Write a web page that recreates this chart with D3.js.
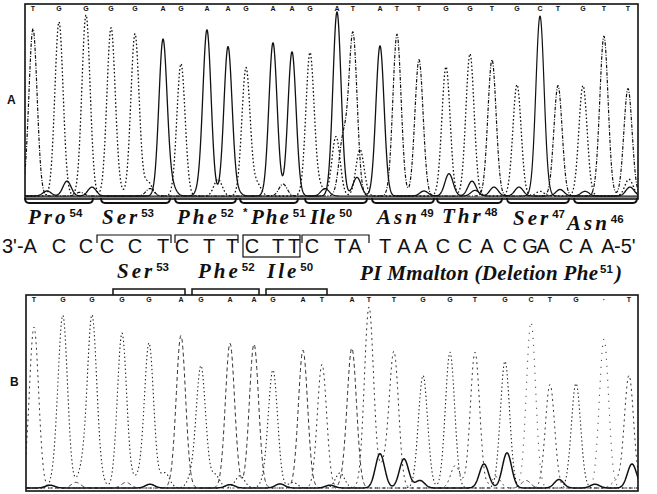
<!DOCTYPE html>
<html><head><meta charset="utf-8">
<script src="https://cdn.jsdelivr.net/npm/d3@7"></script>
<style>
body{margin:0;background:#fff}
text{fill:#111}
.aa{font-family:"Liberation Serif",serif;font-weight:bold;font-style:italic;font-size:21px;letter-spacing:3px}
.sup{font-family:"Liberation Sans",sans-serif;font-weight:bold;font-size:11.5px}
.seq{font-family:"Liberation Sans",sans-serif;font-size:20px}
.call{font-family:"Liberation Sans",sans-serif;font-weight:bold;font-size:7px}
.pl{font-family:"Liberation Sans",sans-serif;font-weight:bold;font-size:12px}
</style>
</head><body><svg id="c" width="657" height="494"></svg>
<script>
// ---------- DATA ----------
// Panel A (normal sequence): base calls, peak positions (scan units), peak intensities
const aBases   = "TGGGGAGAAGAAGATATTGGTGCTGTT".split("");
const aPos     = [8,34,61,86,110,138,156,182,203,221,248,267,285,312,328,355,372,394,421,445,467,492,515,533,558,579,603];
const aHeights = [899,936,974,893,872,840,711,888,802,690,824,776,770,990,867,808,850,733,695,765,733,599,968,594,594,850,578];
// Panel A background (secondary) peaks
const aMinorBases   = "AAAAAAAAAAAAAAGGGGGGGGGTTTTTTCCC".split("");
const aMinorPos     = [22,42,67,147,175,212,332,399,424,447,469,494,535,605, 92,123,193,232,295,311,335,515,604, 55,125,258,318,372,574, 300,450,560];
const aMinorHeights = [27,80,48,48,25,20,100,27,120,80,48,48,35,48, 35,75,90,64,45,320,250,25,90, 20,40,64,300,20,20, 40,30,25];

// Panel B (PI Mmalton)
const bBases   = "TGGGGAGAAGATATTGGTGCTGCT".split("");
const bCalls   = "TGGGGAGAAGATATTGGTGCTG·T".split("");
const bPos     = [8,37,66,96,123,155,175,204,228,247,277,296,326,343,368,397,424,449,479,505,524,550,578,603];
const bHeights = [856,883,904,824,770,797,642,770,765,621,733,658,722,963,717,599,722,722,674,883,551,556,792,599];
// Panel B background peaks (N = solid baseline trace)
const bMinorBases   = "NNNNNNNNNNNNNGGGGGGGGGGGTTTTTAAAAA".split("");
const bMinorPos     = [24,124,204,254,304,354,378,394,458,481,533,569,606, 31,56,74,111,139,166,189,214,239,267,314, 358,429,430,470,590, 50,100,150,320,500];
const bMinorHeights = [15,20,18,22,15,182,155,40,128,187,45,20,128, 80,90,40,50,80,55,70,65,30,30,80, 110,80,40,60,35, 30,30,25,50,40];

// Amino acid annotations
const rowAa    = ["Pro","Ser","Phe","Phe","Ile","Asn","Thr","Ser","Asn"];
const rowAaNum = ["54","53","52","51","50","49","48","47","46"];
const seqText  = ["3'-A","C","C","C","C","T","C","T","T","C","T","T","C","T","A","T","A","A","C","C","A","C","G","A","C","A","A","-5'"];
const rowB     = ["Ser","Phe","Ile"];
const rowBNum  = ["53","52","50"];
const titleB   = "PI Mmalton (Deletion Phe";
const titleBNum = "51";

// ---------- LAYOUT ----------
const svg = d3.select("#c");
const aaLayout = [[28,224],[102,224],[177,224],[251,224],[310,224],[377,224],[442,223],[513,225],[567,230]];
const seqLayout = [2,59,86,107,135,163,182,209,232,252,278,294,312,340,355,385,404,421,443,465,487,510,530,543,566,586,608,614];
const rowBLayout = [[117,278],[198,278],[267,278]];
const underA = [[25,93],[101,170],[175,236],[240,298],[305,367],[372,434],[437,502],[507,569],[574,637]];
const overB = [[113,185],[192,259],[266,327]];
const seqBrackets = [[97,171],[175,238],[302,369]];

const xA = d3.scaleLinear().domain([0,613]).range([25,638]);
const yA = d3.scaleLinear().domain([0,1000]).range([196,10]);
const xB = d3.scaleLinear().domain([0,612]).range([26,638]);
const yB = d3.scaleLinear().domain([0,1000]).range([488,300]);

const stylesA = {
  A:{w:1.3,d:null,c:"#111"}, C:{w:1.2,d:null,c:"#111"},
  G:{w:1.3,d:"1.6,2.2",c:"#111"}, T:{w:1.2,d:"3.5,1.5,1,1.5",c:"#111"}
};
const stylesB = {
  A:{w:1.0,d:"4,3",c:"#333"}, C:{w:1.1,d:"1,6",c:"#333"},
  G:{w:1.1,d:"1.4,2.6",c:"#222"}, T:{w:1.0,d:"2,3.5",c:"#333"}, N:{w:1.5,d:null,c:"#111"}
};

function drawPanel(id, x, y, bases, pos, h, mb, mp, mh, styles, sigma, top, bottom) {
  svg.append("clipPath").attr("id",id).append("rect")
    .attr("x",x.range()[0]).attr("y",top).attr("width",x.range()[1]-x.range()[0]).attr("height",bottom-top);
  const g = svg.append("g").attr("clip-path",`url(#${id})`);
  const peaks = bases.map((b,i)=>({b,p:pos[i],h:h[i]}))
    .concat(mb.map((b,i)=>({b,p:mp[i],h:mh[i]})));
  const [d0,d1] = x.domain();
  const xs = d3.range(d0-6, d1+6, 0.4);
  const order = ["G","T","C","A","N"].filter(c=>peaks.some(p=>p.b===c));
  const line = d3.line().x(d=>x(d[0])).y(d=>y(d[1]));
  order.forEach(c=>{
    const ps = peaks.filter(p=>p.b===c);
    const pts = xs.map(t=>[t, d3.sum(ps, p=>p.h*Math.exp(-((t-p.p)**2)/(2*sigma*sigma)))]);
    g.append("path").datum(pts).attr("d",line)
      .attr("fill","none").attr("stroke",styles[c].c)
      .attr("stroke-width",styles[c].w)
      .attr("stroke-dasharray",styles[c].d)
      .attr("stroke-linejoin","round");
  });
  svg.append("rect").attr("x",x.range()[0]).attr("y",top)
    .attr("width",x.range()[1]-x.range()[0]).attr("height",bottom-top)
    .attr("fill","none").attr("stroke","#111").attr("stroke-width",1.6);
}

drawPanel("clipA", xA, yA, aBases, aPos, aHeights, aMinorBases, aMinorPos, aMinorHeights, stylesA, 4.1, 4, 199);
drawPanel("clipB", xB, yB, bBases, bPos, bHeights, bMinorBases, bMinorPos, bMinorHeights, stylesB, 4.6, 295, 491);
svg.append("line").attr("x1",25).attr("x2",638).attr("y1",197).attr("y2",197).attr("stroke","#111").attr("stroke-width",1);

// base calls
svg.selectAll(".callA").data(aBases).join("text").attr("class","call")
  .attr("x",(d,i)=>xA(aPos[i])).attr("y",11).attr("text-anchor","middle").text(d=>d);
svg.selectAll(".callB").data(bCalls).join("text").attr("class","call")
  .attr("x",(d,i)=>xB(bPos[i])).attr("y",302).attr("text-anchor","middle").text(d=>d);

// panel labels
svg.append("text").attr("class","pl").attr("x",7).attr("y",104).text("A");
svg.append("text").attr("class","pl").attr("x",10).attr("y",386).text("B");

// brackets
const br = svg.append("g").attr("fill","none").attr("stroke","#111");
underA.forEach(([a,b])=>{
  br.append("path").attr("d",`M${a},198 Q${a},203 ${a+4},203 L${b-4},203 Q${b},203 ${b},198`).attr("stroke-width",1.8);
});
overB.forEach(([a,b])=>{
  br.append("path").attr("d",`M${a},295 L${a},289 L${b},289 L${b},295`).attr("stroke-width",1.5);
});
seqBrackets.forEach(([a,b])=>{
  br.append("path").attr("d",`M${a},243 L${a},235 L${b},235 L${b},243`).attr("stroke-width",1.2);
});
br.append("rect").attr("x",243).attr("y",235).attr("width",57).attr("height",22).attr("stroke-width",1.2);

// amino acid labels (superscript placed right after the name)
function aaLabel(name, num, L, ls) {
  const [x,y] = L;
  const t = svg.append("text").attr("class","aa").attr("x",x).attr("y",y).text(name);
  if (ls !== undefined) t.style("letter-spacing", ls+"px");
  const w = t.node().getComputedTextLength();
  const sp = ls !== undefined ? ls : 3;
  svg.append("text").attr("class","sup").attr("x",x + w - sp + 4).attr("y",y-7).text(num);
}
rowAa.forEach((n,i)=>aaLabel(n,rowAaNum[i],aaLayout[i], n==="Ile" ? 1 : (i===3 ? 2 : undefined)));
svg.append("text").attr("class","sup").attr("x",243).attr("y",216).text("*");
rowB.forEach((n,i)=>aaLabel(n,rowBNum[i],rowBLayout[i]));
svg.append("text").attr("class","aa").attr("x",360).attr("y",280)
  .attr("textLength",238).attr("lengthAdjust","spacing").style("letter-spacing","0px").text(titleB);
svg.append("text").attr("class","sup").attr("x",600).attr("y",273).text(titleBNum);
svg.append("text").attr("class","aa").attr("x",615).attr("y",280).text(")");

// nucleotide sequence
svg.selectAll(".seq").data(seqText).join("text").attr("class","seq")
  .attr("x",(d,i)=>seqLayout[i]).attr("y",253)
  .attr("text-anchor",(d,i)=>(i===0||i===seqText.length-1)?"start":"middle")
  .text(d=>d);
</script>
</body></html>
